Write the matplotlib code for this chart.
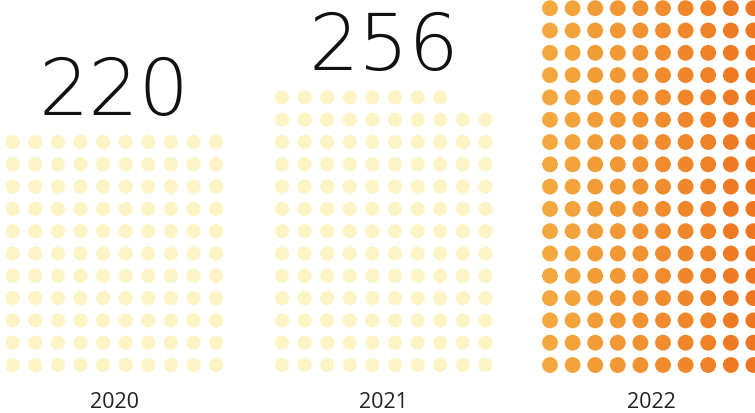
import matplotlib
matplotlib.use("Agg")
import matplotlib.pyplot as plt
import numpy as np
from matplotlib.colors import LinearSegmentedColormap

# values per year; one dot = 2 units
years = ["2020", "2021", "2022"]
values = [220, 256, 340]
show_value = [True, True, False]
per_dot = 2
n_cols = 10

pale = "#FCF4C4"
orange_cmap = LinearSegmentedColormap.from_list("org", ["#F2A83E", "#EE7620"])

fig = plt.figure(figsize=(7.55, 4.14), dpi=100)
ax = fig.add_axes([0, 0, 1, 1])
ax.set_xlim(0, 755)
ax.set_ylim(414, 0)
ax.axis("off")

x_start = [12.7, 282, 550]
dx, dy = 22.6, 22.3
bottom_y = 366
dot_s = [105, 105, 130]

for i, (yr, v) in enumerate(zip(years, values)):
    n = v // per_dot
    full_rows, rest = divmod(n, n_cols)
    xs, ys = [], []
    for r in range(full_rows):
        for c in range(n_cols):
            xs.append(x_start[i] + c * dx)
            ys.append(bottom_y - r * dy)
    for c in range(rest):
        xs.append(x_start[i] + c * dx)
        ys.append(bottom_y - full_rows * dy)
    xs, ys = np.array(xs), np.array(ys)
    if i == 2:
        cols = orange_cmap((xs - xs.min()) / (xs.max() - xs.min()))
    else:
        cols = pale
    ax.scatter(xs, ys, s=dot_s[i], c=cols, edgecolors="none")

    cx = x_start[i] + (n_cols - 1) * dx / 2
    ax.text(cx, 403, yr, ha="center", va="center", fontsize=15.5,
            family="Open Sans", color="#222222")
    if show_value[i]:
        top = ys.min()
        ax.text(cx, top - 58, str(v), ha="center", va="center_baseline", fontsize=57,
                family="DejaVu Sans", fontweight="ultralight", color="#111111")

fig.savefig("out.png", dpi=100)
